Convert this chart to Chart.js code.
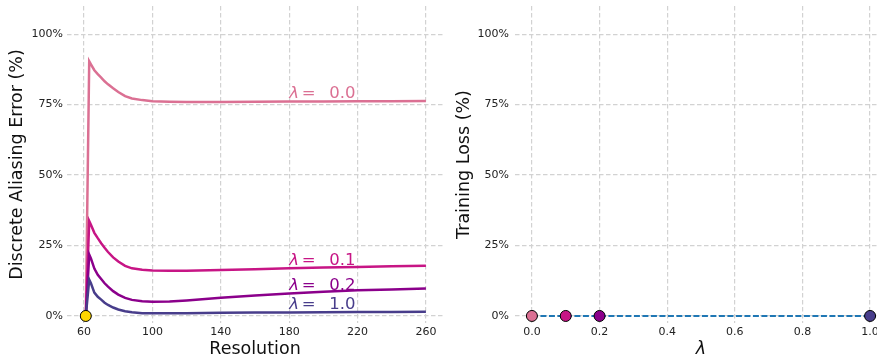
<!DOCTYPE html>
<html>
<head>
<meta charset="utf-8">
<script src="https://cdn.jsdelivr.net/npm/chart.js@4"></script>
<style>
  html, body { margin: 0; padding: 0; background: #fff; }
  body { width: 877px; height: 363px; overflow: hidden; position: relative; }
  .box { position: absolute; top: 0; width: 445px; height: 363px; }
</style>
</head>
<body>
<div class="box" style="left:0"><canvas id="aliasChart" width="445" height="363"></canvas></div>
<div class="box" style="left:445px"><canvas id="lossChart" width="445" height="363"></canvas></div>
<script>
const resolution = [61, 63, 64, 66, 68, 70, 72, 74, 77, 80, 84, 88, 94, 100, 110, 120, 140, 160, 180, 200, 220, 240, 260];
const errLambda00 = [0, 90.4, 89.3, 87.2, 85.8, 84.6, 83.3, 82.2, 80.8, 79.5, 78.0, 77.2, 76.6, 76.2, 76.0, 75.9, 75.9, 76.0, 76.1, 76.1, 76.2, 76.2, 76.3];
const errLambda01 = [0, 33.7, 32.4, 29.5, 27.6, 25.8, 24.2, 22.7, 20.8, 19.3, 17.8, 16.9, 16.4, 16.1, 16.0, 16.0, 16.3, 16.6, 16.9, 17.2, 17.4, 17.6, 17.8];
const errLambda02 = [0, 21.8, 20.4, 16.8, 14.6, 13.1, 11.6, 10.4, 8.8, 7.6, 6.4, 5.7, 5.2, 5.0, 5.1, 5.5, 6.5, 7.3, 8.0, 8.6, 9.1, 9.4, 9.7];
const errLambda10 = [0, 12.9, 11.6, 8.3, 6.8, 5.8, 4.7, 3.9, 3.0, 2.3, 1.7, 1.3, 1.0, 1.0, 1.0, 1.0, 1.1, 1.2, 1.2, 1.3, 1.4, 1.4, 1.5];
const startRes = [61];
const startErr = [0];

const lambdas = [0.0, 0.1, 0.2, 1.0];
const lambdaLabels = ['0.0', '0.1', '0.2', '1.0'];
const trainingLoss = [0, 0, 0, 0];

const resTicks = [60, 100, 140, 180, 220, 260];
const lambdaTicks = [0, 0.2, 0.4, 0.6, 0.8, 1.0];
const pctTicks = [0, 25, 50, 75, 100];

const colors = ['#db7093', '#c71585', '#8b008b', '#483d8b'];
const errSeries = [errLambda00, errLambda01, errLambda02, errLambda10];
const labelAt = 180;

const font = "'DejaVu Sans', sans-serif";
const gridStyle = { color: '#d2d2d2', lineWidth: 1.2, drawTicks: false };
const borderStyle = { display: false, dash: [4.5, 2.5] };

function toPoints(xs, ys) {
    return xs.map((x, i) => ({ x: x, y: ys[i] }));
}

// fixed axis boxes so the plot areas line up with the reference
function fitY(width) {
    return (s) => { s.width = width; s.paddingTop = 0; s.paddingBottom = 0; };
}
function fitX(s) {
    s.height = 40;
}

const lambdaLabelPlugin = {
    id: 'lambdaLabels',
    afterDatasetsDraw(chart) {
        const { ctx, scales: { x, y } } = chart;
        const idx = resolution.indexOf(labelAt);
        ctx.save();
        ctx.textBaseline = 'alphabetic';
        ctx.textAlign = 'left';
        errSeries.forEach((s, i) => {
            const px = x.getPixelForValue(labelAt);
            const py = y.getPixelForValue(s[idx]) - 3.5;
            ctx.fillStyle = colors[i];
            ctx.font = 'italic 16.5px ' + font;
            ctx.fillText('λ', px, py);
            ctx.font = '16.5px ' + font;
            ctx.fillText('=', px + 12.5, py);
            ctx.fillText(lambdaLabels[i], px + 40, py);
        });
        ctx.restore();
    }
};

new Chart(document.getElementById('aliasChart'), {
    type: 'line',
    data: {
        datasets: errSeries.map((s, i) => ({
            data: toPoints(resolution, s),
            borderColor: colors[i],
            borderWidth: 2.5,
            pointRadius: 0,
            tension: 0,
            order: 4 - i
        })).concat([{
            type: 'scatter',
            data: toPoints(startRes, startErr),
            backgroundColor: '#ffd700',
            borderColor: '#000',
            borderWidth: 1,
            pointRadius: 5.5,
            order: 0
        }])
    },
    options: {
        responsive: false,
        devicePixelRatio: 1,
        animation: false,
        layout: { autoPadding: false, padding: { top: 6, right: 2, bottom: 0, left: 0 } },
        plugins: { legend: { display: false }, tooltip: { enabled: false } },
        scales: {
            x: {
                type: 'linear', min: 50, max: 270,
                grid: gridStyle, border: borderStyle,
                afterBuildTicks: (s) => { s.ticks = resTicks.map(v => ({ value: v })); },
                afterFit: fitX,
                ticks: { padding: 3, color: '#222', font: { family: font, size: 11 }, maxRotation: 0, callback: v => String(v) },
                title: { display: true, text: 'Resolution', color: '#111', padding: { top: 0, bottom: 3 }, font: { family: font, size: 17.5 } }
            },
            y: {
                type: 'linear', min: -2.5, max: 110,
                grid: gridStyle, border: borderStyle,
                afterBuildTicks: (s) => { s.ticks = pctTicks.map(v => ({ value: v })); },
                afterFit: fitY(67),
                ticks: { padding: 4, color: '#222', font: { family: font, size: 11 }, callback: v => v + '%' },
                title: { display: true, text: 'Discrete Aliasing Error (%)', color: '#111', padding: { top: 7, bottom: 0 }, font: { family: font, size: 17.5 } }
            }
        }
    },
    plugins: [lambdaLabelPlugin]
});

new Chart(document.getElementById('lossChart'), {
    type: 'line',
    data: {
        datasets: [{
            data: toPoints(lambdas, trainingLoss),
            borderColor: '#1f77b4',
            borderWidth: 2,
            borderDash: [6, 2.5],
            tension: 0,
            pointRadius: 5.5,
            pointBackgroundColor: colors,
            pointBorderColor: '#000',
            pointBorderWidth: 1
        }]
    },
    options: {
        responsive: false,
        devicePixelRatio: 1,
        animation: false,
        layout: { autoPadding: false, padding: { top: 6, right: 3, bottom: 0, left: 0 } },
        plugins: { legend: { display: false }, tooltip: { enabled: false } },
        scales: {
            x: {
                type: 'linear', min: -0.05, max: 1.05,
                grid: gridStyle, border: borderStyle,
                afterBuildTicks: (s) => { s.ticks = lambdaTicks.map(v => ({ value: v })); },
                afterFit: fitX,
                ticks: { padding: 3, color: '#222', font: { family: font, size: 11 }, maxRotation: 0, callback: v => v.toFixed(1) },
                title: { display: true, text: 'λ', color: '#111', padding: { top: 0, bottom: 3 }, font: { family: font, size: 17.5, style: 'italic' } }
            },
            y: {
                type: 'linear', min: -2.5, max: 110,
                grid: gridStyle, border: borderStyle,
                afterBuildTicks: (s) => { s.ticks = pctTicks.map(v => ({ value: v })); },
                afterFit: fitY(70),
                ticks: { padding: 6, color: '#222', font: { family: font, size: 11 }, callback: v => v + '%' },
                title: { display: true, text: 'Training Loss (%)', color: '#111', padding: { top: 9, bottom: 0 }, font: { family: font, size: 17.5 } }
            }
        }
    }
});
</script>
</body>
</html>
